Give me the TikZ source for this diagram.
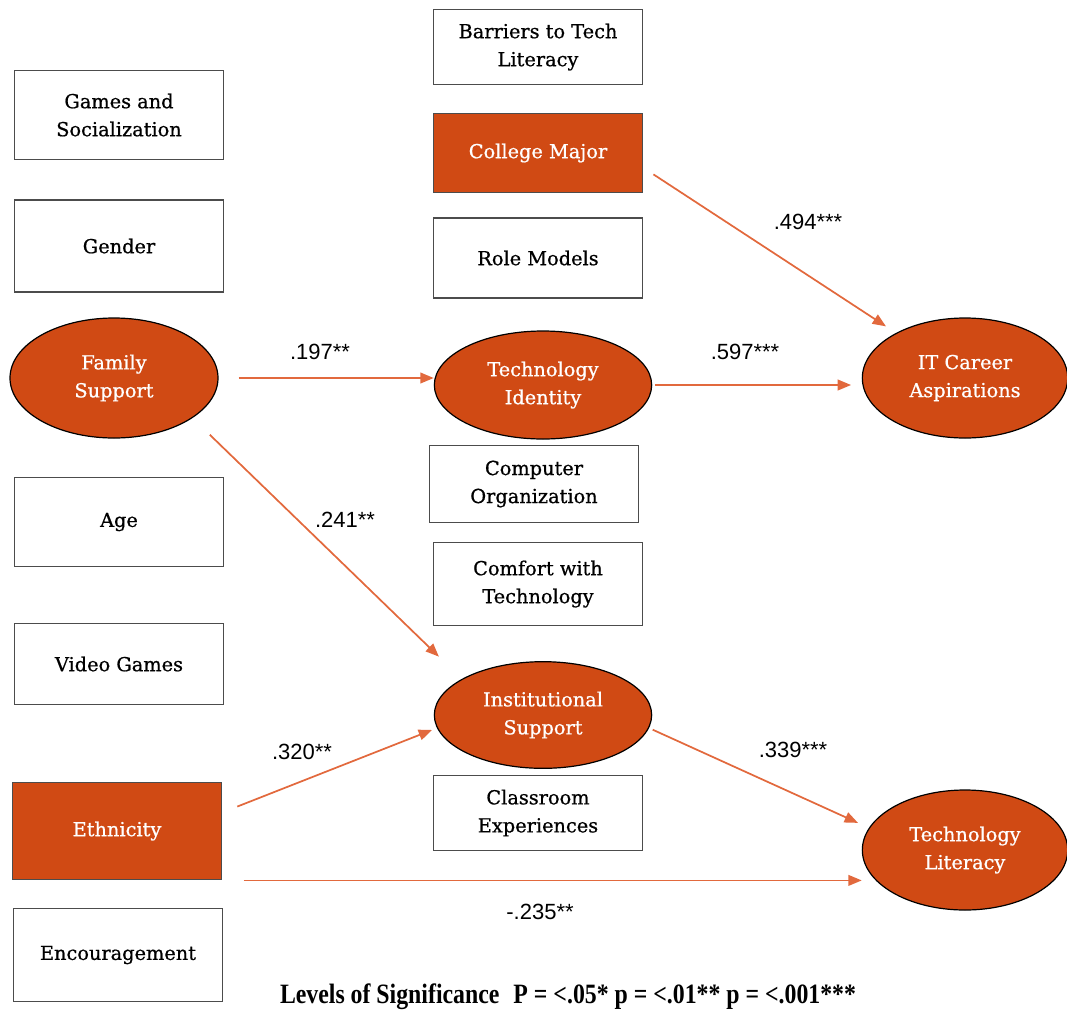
\documentclass[tikz,border=0pt]{standalone}
\usepackage{fontspec}
\setmainfont{DejaVu Serif}
\newfontfamily\nodefont[FakeBold=0.7]{DejaVu Serif}
\newfontfamily\coeffont{Liberation Sans}
\newfontfamily\legendfont[FakeStretch=0.85]{Liberation Serif}
\usetikzlibrary{arrows.meta,shapes.geometric}

\definecolor{rust}{HTML}{D04A14}
\definecolor{pathline}{HTML}{E2693D}

\tikzset{
  varbox/.style={draw=black!70, line width=1.1pt, minimum width=157pt, align=center,
    font=\nodefont\fontsize{14.5}{21}\selectfont},
  keybox/.style={varbox, fill=rust, text=white},
  latent/.style={ellipse, draw=black, line width=0.9pt, fill=rust, text=white, align=center,
    inner sep=0pt, font=\nodefont\fontsize{14.5}{21}\selectfont},
  link/.style={pathline, line width=1.3pt, -{Triangle[length=10pt,width=8pt]}},
  coef/.style={font=\coeffont\fontsize{16.5}{18}\selectfont}
}

\begin{document}
\begin{tikzpicture}[x=0.75pt, y=-0.75pt]
  \useasboundingbox (0,0) rectangle (1067,1015);

  % left column
  \node[varbox, minimum height=67pt] (games) at (119,115) {Games and\\Socialization};
  \node[varbox, minimum height=69pt] (gender) at (119,246) {Gender};
  \node[latent, minimum width=156pt, minimum height=90pt] (fam) at (114,378) {Family\\Support};
  \node[varbox, minimum height=67pt] (age) at (119,522) {Age};
  \node[varbox, minimum height=61pt] (video) at (119,664) {Video Games};
  \node[keybox, minimum height=73pt] (eth) at (117,831) {Ethnicity};
  \node[varbox, minimum height=70pt] (enc) at (118,955) {Encouragement};

  % middle column
  \node[varbox, minimum height=56pt] (barriers) at (538,47) {Barriers to Tech\\Literacy};
  \node[keybox, minimum height=59pt] (major) at (538,153) {College Major};
  \node[varbox, minimum height=60pt] (role) at (538,258) {Role Models};
  \node[latent, minimum width=163pt, minimum height=81pt] (techid) at (543,385) {Technology\\Identity};
  \node[varbox, minimum height=58pt] (comp) at (534,484) {Computer\\Organization};
  \node[varbox, minimum height=62pt] (comfort) at (538,584) {Comfort with\\Technology};
  \node[latent, minimum width=163pt, minimum height=80pt] (inst) at (543,715) {Institutional\\Support};
  \node[varbox, minimum height=56pt] (class) at (538,813) {Classroom\\Experiences};

  % outcomes
  \node[latent, minimum width=154pt, minimum height=90pt] (career) at (965,378) {IT Career\\Aspirations};
  \node[latent, minimum width=154pt, minimum height=90pt] (techlit) at (965,850) {Technology\\Literacy};

  % paths
  \draw[link, shorten <=15pt] (fam.east) -- (fam.east -| techid.west);
  \draw[link, shorten <=2pt, shorten >=8pt] (techid.east) -- (techid.east -| career.west);
  \draw[link, shorten <=9pt, shorten >=9pt] (major.-8) -- (career);
  \draw[link, shorten <=18pt, shorten >=24pt] (fam.-27) -- (inst.156);
  \draw[link, shorten <=12pt, shorten >=4pt] (eth.10) -- (inst.187);
  \draw[link, shorten <=3pt, shorten >=9pt] (inst.-7) -- (techlit.167);
  \draw[link, shorten <=16pt] (eth.south east) -- (eth.south east -| techlit.west);

  \node[coef] (c1) at (320,352) {.197**};
  \node[coef] (c2) at (745,352) {.597***};
  \node[coef] (c3) at (808,222) {.494***};
  \node[coef] (c4) at (345,520) {.241**};
  \node[coef] (c5) at (302,752) {.320**};
  \node[coef] (c6) at (793,750) {.339***};
  \node[coef] (c7) at (540,912) {-.235**};

  \node[font=\legendfont\bfseries\fontsize{21}{23}\selectfont] (legend) at (568,997)
    {Levels of Significance\enspace P = <.05* p = <.01** p = <.001***};
\end{tikzpicture}
\end{document}
